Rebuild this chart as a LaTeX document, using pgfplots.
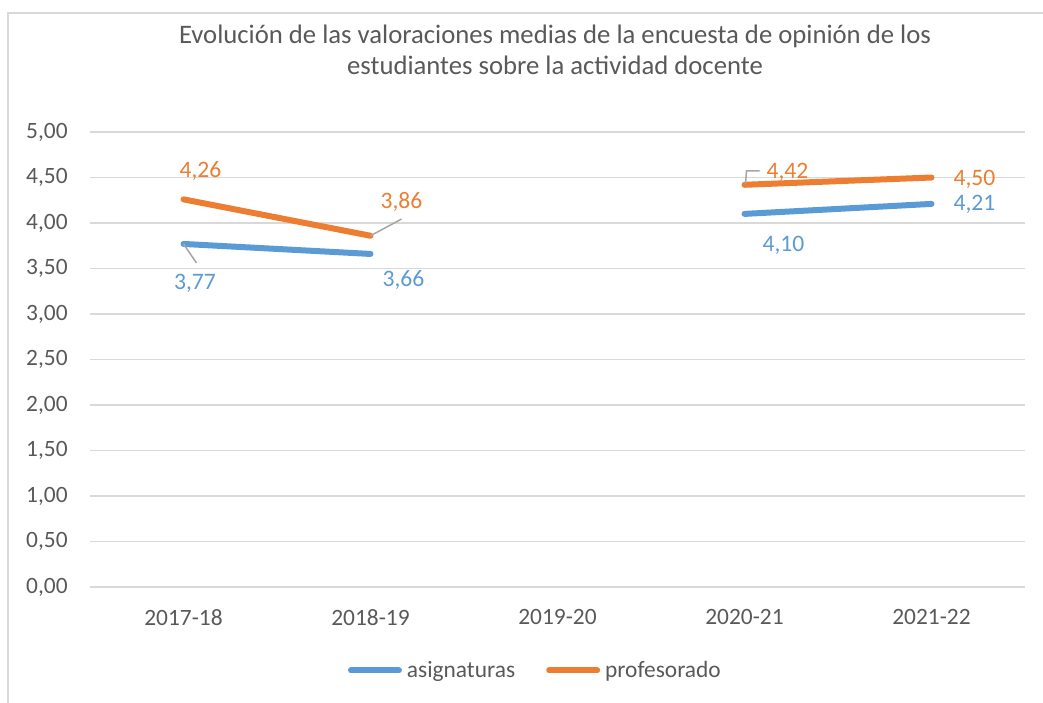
\documentclass[border=0pt]{standalone}
\usepackage{fontspec}
\setmainfont{Carlito}
\usepackage{pgfplots}
\pgfplotsset{compat=1.18}
\definecolor{serA}{HTML}{5B9BD5}
\definecolor{serB}{HTML}{ED7D31}
\definecolor{txt}{HTML}{595959}
\definecolor{gridc}{HTML}{D9D9D9}
\definecolor{lead}{HTML}{A6A6A6}

\begin{document}
\begin{tikzpicture}[
  lbl/.style={font=\fontsize{11.8}{14}\selectfont, inner sep=0pt, anchor=base},
  leader/.style={lead, line width=0.75pt},
]
\useasboundingbox (-45pt,-57.5pt) rectangle (476.5pt,293.5pt);
% chart frame (cut by the picture on the right and bottom)
\draw[gridc, line width=1pt] (-41pt,-60pt) -- (-41pt,287pt) -- (480pt,287pt);

\begin{axis}[
  at={(0,0)}, anchor=south west,
  scale only axis, width=467.5pt, height=227.5pt,
  xmin=-0.5, xmax=4.5, ymin=0, ymax=5,
  xtick={0,1,2,3,4},
  xticklabels={2017-18,2018-19,2019-20,2020-21,2021-22},
  ytick={0,0.5,1,1.5,2,2.5,3,3.5,4,4.5,5},
  ymajorgrids, grid style={gridc, line width=0.75pt},
  axis line style={draw=none}, tick style={draw=none},
  /pgf/number format/assume math mode=true,
  yticklabel style={/pgf/number format/fixed, /pgf/number format/fixed zerofill,
    /pgf/number format/precision=2, /pgf/number format/use comma},
  every tick label/.append style={font=\fontsize{11.7}{14}\selectfont, text=txt, inner sep=0pt},
  yticklabel style={anchor=east, xshift=-11pt},
  xticklabel style={anchor=north, yshift=-11pt},
  unbounded coords=jump,
  legend style={at={(axis description cs:0.2759,-0.1835)}, anchor=west,
    draw=none, fill=none, inner sep=0pt, outer sep=0pt,
    font=\fontsize{11.7}{14}\selectfont, text=txt,
    nodes={inner sep=0pt},
    /tikz/every odd column/.append style={column sep=2.5pt},
    /tikz/every even column/.append style={column sep=15.5pt}},
  legend columns=2,
  legend image code/.code={\draw[#1, line width=3pt, line cap=round] (1.5pt,0pt) -- (25.5pt,0pt);},
]
\addplot[serA, line width=3pt, line cap=round, line join=round] coordinates {
  (0,3.77) (1,3.66) (2,nan) (3,4.10) (4,4.21)};
\addplot[serB, line width=3pt, line cap=round, line join=round] coordinates {
  (0,4.26) (1,3.86) (2,nan) (3,4.42) (4,4.50)};
\legend{asignaturas, profesorado}

% leader lines
\draw[leader] (axis cs:1,3.86) -- ++(15.5pt,8.35pt);
\draw[leader] (axis cs:0,3.77) -- ++(6.5pt,-9.5pt);
\draw[leader] (axis cs:3,4.42) ++(0.5pt,0.5pt) -- ++(0.5pt,6.4pt) -- ++(6.5pt,0pt);

% data labels
\node[lbl, text=serB] at (axis cs:0,4.26) [xshift=8.5pt, yshift=11.15pt] {4,26};
\node[lbl, text=serB] at (axis cs:1,3.86) [xshift=15.5pt, yshift=13.85pt] {3,86};
\node[lbl, text=serB] at (axis cs:3,4.42) [xshift=21.5pt, yshift=2.9pt] {4,42};
\node[lbl, text=serB] at (axis cs:4,4.50) [xshift=21.5pt, yshift=-3.75pt] {4,50};
\node[lbl, text=serA] at (axis cs:0,3.77) [xshift=5.75pt, yshift=-23pt] {3,77};
\node[lbl, text=serA] at (axis cs:1,3.66) [xshift=16.5pt, yshift=-16.5pt] {3,66};
\node[lbl, text=serA] at (axis cs:3,4.10) [xshift=19.5pt, yshift=-19pt] {4,10};
\node[lbl, text=serA] at (axis cs:4,4.21) [xshift=21.5pt, yshift=-3.5pt] {4,21};
\end{axis}

\node[anchor=base, inner sep=0pt, text=txt, font=\fontsize{13.35}{16}\selectfont]
  at (232.5pt,271.5pt) {Evolución de las valoraciones medias de la encuesta de opinión de los};
\node[anchor=base, inner sep=0pt, text=txt, font=\fontsize{13.35}{16}\selectfont]
  at (232.5pt,256pt) {estudiantes sobre la actividad docente};
\end{tikzpicture}
\end{document}
